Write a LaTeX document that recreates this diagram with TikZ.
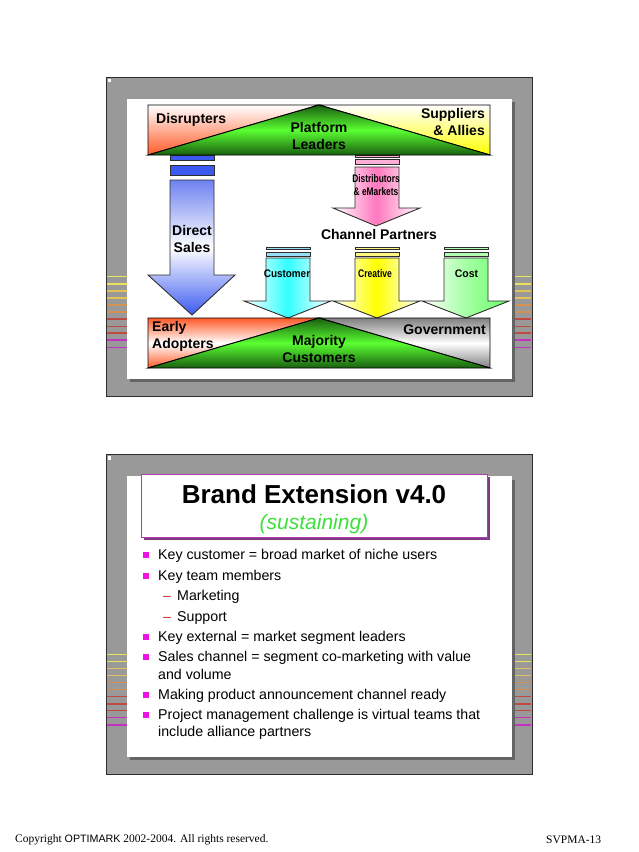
\documentclass[tikz,border=0pt]{standalone}
\usepackage{fontspec}
\setmainfont{Liberation Sans}
\newfontfamily\footfont{Liberation Serif}
\definecolor{framegray}{RGB}{153,153,153}
\definecolor{shadowgray}{RGB}{100,100,100}
\definecolor{edgedark}{RGB}{45,45,45}
\definecolor{platgreen}{RGB}{90,255,50}
\definecolor{darkgreen}{RGB}{25,95,15}
\definecolor{hotorange}{RGB}{255,90,40}
\definecolor{directblue}{RGB}{60,90,240}
\definecolor{topblue}{RGB}{110,130,240}
\definecolor{titleedge}{RGB}{175,60,175}
\definecolor{titleshadow}{RGB}{125,60,130}
\definecolor{bulletmag}{RGB}{235,20,225}
\definecolor{subgreen}{RGB}{60,225,60}
\definecolor{pinkarrow}{RGB}{255,120,190}
\definecolor{stripeyellow}{RGB}{235,225,90}
\definecolor{stripegold}{RGB}{225,195,90}
\definecolor{stripeorange}{RGB}{210,145,85}
\definecolor{stripered}{RGB}{190,75,65}
\definecolor{stripemag}{RGB}{195,50,190}
\begin{document}
\begin{tikzpicture}[
		x=1pt,y=-1pt,
		boxlabel/.style={font=\fontsize{14}{17}\selectfont\bfseries,inner sep=0pt,align=center},
		narrowlabel/.style={font=\fontsize{11}{13}\selectfont\bfseries,inner sep=0pt,align=center,transform shape},
		keyitem/.style={font=\fontsize{14.2}{19}\selectfont,inner sep=0pt,anchor=base west},
		keybullet/.style={fill=bulletmag,minimum size=6pt,inner sep=0pt},
		footitem/.style={inner sep=0pt,anchor=base west,font=\fontsize{11.5}{13}\footfont},
		arrowedge/.style={draw=edgedark,line width=0.9pt},
		bandedge/.style={draw=black,line width=0.9pt}
		]
		\useasboundingbox (0,0) rectangle (638,852);
		% both slide frames
		\foreach \dy in {0,377.5}
		{
			\fill[framegray,draw=edgedark,line width=1pt] (106,77+\dy) rectangle (532,396.5+\dy);
			\fill[white] (107.5,78.5+\dy) rectangle (111,82+\dy);
			\fill[shadowgray] (130,102+\dy) rectangle (515,382+\dy);
			\fill[white] (127,98.5+\dy) rectangle (512,379+\dy);
			\foreach \ypos/\col in {276.7/stripeyellow,284/stripeyellow,291/stripegold,298/stripegold,
				305/stripeorange,312/stripeorange,319/stripered,326.4/stripered,
				333/stripered,340/stripemag,347.4/stripemag}
			{
				\draw[\col,line width=1.2pt] (107,\ypos+\dy) -- (127,\ypos+\dy);
				\draw[\col,line width=1.2pt] (515,\ypos+\dy) -- (531,\ypos+\dy);
			}
		}
		% direct sales arrow
		\fill[directblue,arrowedge] (170,155) rectangle (214,160);
		\fill[directblue,arrowedge] (170,165) rectangle (214,175);
		\shade[top color=topblue,bottom color=directblue,middle color=white,arrowedge]
			(170,180) -- (214,180) -- (214,275) -- (235,275) -- (192,315) -- (148,275) -- (170,275) -- cycle;
		% distributors arrow
		\fill[pinkarrow!60,arrowedge] (355,155) rectangle (399,157.5);
		\fill[pinkarrow!60,arrowedge] (355,159.5) rectangle (399,164);
		\shade[left color=white,right color=white,middle color=pinkarrow,arrowedge]
			(355,167) -- (399,167) -- (399,208) -- (420,208) -- (376,226) -- (333,208) -- (355,208) -- cycle;
		% channel arrows
		\foreach \xpos/\lcol/\mcol/\rcol/\bcol in {288/white/cyan!80/white/cyan!40,377/white/yellow/white/yellow!50,466/white/green!35/green!60/green!30}
		{
			\fill[\bcol,arrowedge] (\xpos-22,247) rectangle (\xpos+22,249.5);
			\fill[\bcol,arrowedge] (\xpos-22,252.5) rectangle (\xpos+22,256);
			\shade[left color=\lcol,right color=\rcol,middle color=\mcol,arrowedge]
				(\xpos-22,258) -- (\xpos+22,258) -- (\xpos+22,301) -- (\xpos+43,301) -- (\xpos,318) -- (\xpos-44,301) -- (\xpos-22,301) -- cycle;
		}
		% top band
		\shade[top color=white,bottom color=hotorange,bandedge] (148,105) -- (319,105) -- (148,155) -- cycle;
		\shade[top color=white,bottom color=yellow,bandedge] (319,105) -- (490,105) -- (490,155) -- cycle;
		\shade[top color=darkgreen,bottom color=darkgreen,middle color=platgreen,bandedge] (148,155) -- (319,105) -- (490,155) -- cycle;
		% bottom band
		\shade[top color=hotorange,bottom color=hotorange,middle color=white,bandedge] (148,318) -- (319,318) -- (148,368) -- cycle;
		\shade[top color=gray,bottom color=gray,middle color=white,bandedge] (319,318) -- (490,318) -- (490,368) -- cycle;
		\shade[top color=darkgreen,bottom color=darkgreen,middle color=platgreen,bandedge] (148,368) -- (319,318) -- (490,368) -- cycle;
		% labels of the first slide
		\node[boxlabel,anchor=west] (disrupters) at (156,120) {Disrupters};
		\node[boxlabel,align=right,anchor=east] (suppliers) at (485,121.5) {Suppliers\\\& Allies};
		\node[boxlabel] (platform) at (319,136) {Platform\\Leaders};
		\node[boxlabel] (direct) at (192,238.5) {Direct\\Sales};
		\node[boxlabel] (channel) at (379,234) {Channel Partners};
		\node[boxlabel,align=left,anchor=west] (early) at (152,336) {Early\\Adopters};
		\node[boxlabel,anchor=east] (government) at (486,330) {Government};
		\node[boxlabel] (majority) at (319,349) {Majority\\Customers};
		\node[narrowlabel,xscale=0.76] (distributors) at (376,185) {Distributors\\\& eMarkets};
		\node[narrowlabel,xscale=0.9] (customer) at (287,274) {Customer};
		\node[narrowlabel,xscale=0.78] (creative) at (375,274) {Creative};
		\node[narrowlabel,xscale=0.95] (cost) at (466.5,274) {Cost};
		% title box of the second slide
		\fill[titleshadow] (144,477) rectangle (490,540);
		\fill[white,draw=titleedge,line width=1pt] (141,474) rectangle (487,537);
		\node[font=\fontsize{26}{30}\selectfont\bfseries,inner sep=0pt] (title) at (314,494) {Brand Extension v4.0};
		\node[font=\fontsize{21}{24}\selectfont\itshape,text=subgreen,inner sep=0pt] (subtitle) at (314,524) {(sustaining)};
		% bullet list
		\foreach \ypos/\txt [count=\n] in {559/Key customer = broad market of niche users,
			580/Key team members,
			641.5/Key external = market segment leaders,
			661/Sales channel = segment co-marketing with value,
			679.5/and volume,
			699/Making product announcement channel ready,
			719/Project management challenge is virtual teams that,
			736/include alliance partners}
		{
			\node[keyitem] (item\n) at (158,\ypos) {\txt};
		}
		\foreach \ypos [count=\n] in {555,576,636.6,656.6,694.6,714.6}
		{
			\node[keybullet] (bullet\n) at (146,\ypos) {};
		}
		\node[keyitem] (marketing) at (177,600) {Marketing};
		\node[keyitem] (support) at (177,621) {Support};
		\node[keyitem,text=red!70!gray] (dasha) at (163,600) {–};
		\node[keyitem,text=red!70!gray] (dashb) at (163,621) {–};
		% footer
		\node[footitem] (copyright) at (15,842) {Copyright {\fontsize{10.7}{13}\rmfamily\selectfont OPTIMARK} 2002-2004. All rights reserved.};
		\node[footitem] (pagemark) at (546,843) {SVPMA-13};
	\end{tikzpicture}
\end{document}
